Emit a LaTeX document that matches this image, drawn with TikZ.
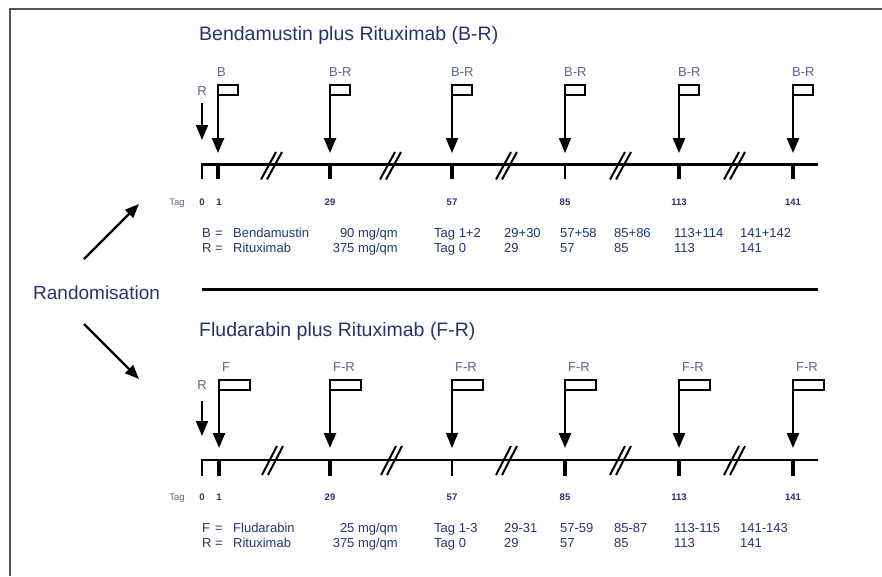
\documentclass[tikz,border=0pt]{standalone}
\usepackage{fontspec}
\setmainfont{Liberation Sans}
\usetikzlibrary{arrows.meta}
\definecolor{navy}{HTML}{26336E}
\definecolor{lblue}{HTML}{5A6390}
\definecolor{frameg}{HTML}{555555}
\tikzset{
  x=1pt,y=-1pt,
  titletext/.style={anchor=base west, inner sep=0, text=navy, font=\fontsize{19.5}{22}\selectfont},
  flaglbl/.style={anchor=base west, inner sep=0, text=lblue, font=\fontsize{13}{15}\selectfont},
  rlbl/.style={anchor=base, inner sep=0, text=lblue, font=\fontsize{13}{15}\selectfont},
  daylbl/.style={anchor=base, inner sep=0, text=navy, font=\fontsize{9.5}{11}\selectfont\bfseries},
  taglbl/.style={anchor=base, inner sep=0, text=lblue, font=\fontsize{9.5}{11}\selectfont},
  legend/.style={anchor=base west, inner sep=0, text=navy, font=\fontsize{13}{15}\selectfont},
  legendr/.style={anchor=base east, inner sep=0, text=navy, font=\fontsize{13}{15}\selectfont},
  flagbox/.style={draw, line width=2.2pt, fill=white, inner sep=0, outer sep=0, anchor=north west, minimum height=10pt},
  headtip/.style={-{Triangle[width=12pt,length=15pt]}},
  randarrow/.style={line width=2.4pt, -{Triangle[width=11pt,length=14pt]}},
  slashline/.style={line width=2pt},
}
\begin{document}
\begin{tikzpicture}
\useasboundingbox (0,0) rectangle (882,576);
% frame
\draw[line width=1.5pt, frameg] (10,576) -- (10,9) -- (882,9);

% ---------- upper arm ----------
\node[titletext] (t1) at (199,40) {Bendamustin plus Rituximab (B-R)};
\draw[line width=2pt] (202,179) -- (202,164);
\draw[line width=3pt] (201,164) -- (818,164);
\foreach \x/\w in {218/3.2,330/3.2,452/3.2,565/1.4,679/3.2,793/3.2}
  \draw[line width=\w pt] (\x,164) -- (\x,179);
\foreach \cx in {273,392,508,622,736}{
  \draw[slashline] (\cx-12,179.5) -- (\cx+3,152);
  \draw[slashline] (\cx-6,179.5) -- (\cx+9,152);
}
\foreach \x/\lbl/\w [count=\i] in {218/B/2.4,330/B-R/2.4,452/B-R/2.4,565/B-R/1.4,679/B-R/2.4,793/B-R/2.4}{
  \node[flagbox, minimum width=20pt] (uf\i) at (\x,85) {};
  \coordinate (ut\i) at (\x,153);
  \draw[line width=\w pt, headtip] (uf\i.north west) -- (ut\i);
  \node[flaglbl] (ul\i) at (\x-1,76.7) {\lbl};
}
\node[rlbl] (uR) at (202,95.7) {R};
\coordinate (uRs) at (202,103);
\coordinate (uRt) at (202,140);
\draw[line width=2pt, headtip] (uRs) -- (uRt);
\node[taglbl] (utag) at (177,205.5) {Tag};
\foreach \x/\d in {202/0,219/1,330/29,452/57,565/85,679/113,793/141}
  \node[daylbl] (ud\d) at (\x,205.5) {\d};
% legend upper
\node[legend] (ua1) at (202,237.7) {B};
\node[legend] (ua2) at (215,237.7) {=};
\node[legend] (ua3) at (233,237.7) {Bendamustin};
\node[legendr] (ua4) at (398,237.7) {90 mg/qm};
\node[legend] (ua5) at (434,237.7) {Tag 1+2};
\node[legend] (ua6) at (504,237.7) {29+30};
\node[legend] (ua7) at (560,237.7) {57+58};
\node[legend] (ua8) at (614,237.7) {85+86};
\node[legend] (ua9) at (674,237.7) {113+114};
\node[legend] (ua10) at (740,237.7) {141+142};
\node[legend] (ub1) at (202,252.7) {R};
\node[legend] (ub2) at (215,252.7) {=};
\node[legend] (ub3) at (233,252.7) {Rituximab};
\node[legendr] (ub4) at (398,252.7) {375 mg/qm};
\node[legend] (ub5) at (434,252.7) {Tag 0};
\node[legend] (ub6) at (504,252.7) {29};
\node[legend] (ub7) at (560,252.7) {57};
\node[legend] (ub8) at (614,252.7) {85};
\node[legend] (ub9) at (674,252.7) {113};
\node[legend] (ub10) at (740,252.7) {141};

% divider
\coordinate (dvl) at (202,289);
\coordinate (dvr) at (818,289);
\draw[line width=3pt] (dvl) -- (dvr);

% randomisation
\node[anchor=base west, inner sep=0, text=navy, font=\fontsize{19}{22}\selectfont] (rand) at (33,299) {Randomisation};
\coordinate (ruS) at (84,259);
\coordinate (ruE) at (139,204);
\coordinate (rlS) at (84,324);
\coordinate (rlE) at (139,379);
\draw[randarrow] (ruS) -- (ruE);
\draw[randarrow] (rlS) -- (rlE);

% ---------- lower arm ----------
\node[titletext] (t2) at (199,336) {Fludarabin plus Rituximab (F-R)};
\draw[line width=1.8pt] (202,476) -- (202,460);
\draw[line width=1.8pt] (201.1,460) -- (818,460);
\foreach \x/\w in {219/3.2,330/3.2,452/1.6,565/3.2,679/3.2,793/3.2}
  \draw[line width=\w pt] (\x,460) -- (\x,476);
\foreach \cx in {274,393,508,622,736}{
  \draw[slashline] (\cx-12,475) -- (\cx+3,446);
  \draw[slashline] (\cx-6,475) -- (\cx+9,446);
}
\foreach \x/\lbl/\w [count=\i] in {219/F/2.4,330/F-R/2.4,452/F-R/1.5,565/F-R/2.4,679/F-R/2.4,793/F-R/2.4}{
  \node[flagbox, minimum width=31pt] (lf\i) at (\x,380) {};
  \coordinate (lt\i) at (\x,448);
  \draw[line width=\w pt, headtip] (lf\i.north west) -- (lt\i);
  \node[flaglbl] (ll\i) at (\x+3,371.7) {\lbl};
}
\node[rlbl] (lR) at (202,389.7) {R};
\coordinate (lRs) at (202,401);
\coordinate (lRt) at (202,436);
\draw[line width=2pt, headtip] (lRs) -- (lRt);
\node[taglbl] (ltag) at (177,500.5) {Tag};
\foreach \x/\d in {202/0,219/1,330/29,452/57,565/85,679/113,793/141}
  \node[daylbl] (ld\d) at (\x,500.5) {\d};
% legend lower
\node[legend] (la1) at (202,532.7) {F};
\node[legend] (la2) at (215,532.7) {=};
\node[legend] (la3) at (233,532.7) {Fludarabin};
\node[legendr] (la4) at (398,532.7) {25 mg/qm};
\node[legend] (la5) at (434,532.7) {Tag 1-3};
\node[legend] (la6) at (504,532.7) {29-31};
\node[legend] (la7) at (560,532.7) {57-59};
\node[legend] (la8) at (614,532.7) {85-87};
\node[legend] (la9) at (674,532.7) {113-115};
\node[legend] (la10) at (740,532.7) {141-143};
\node[legend] (lb1) at (202,547.7) {R};
\node[legend] (lb2) at (215,547.7) {=};
\node[legend] (lb3) at (233,547.7) {Rituximab};
\node[legendr] (lb4) at (398,547.7) {375 mg/qm};
\node[legend] (lb5) at (434,547.7) {Tag 0};
\node[legend] (lb6) at (504,547.7) {29};
\node[legend] (lb7) at (560,547.7) {57};
\node[legend] (lb8) at (614,547.7) {85};
\node[legend] (lb9) at (674,547.7) {113};
\node[legend] (lb10) at (740,547.7) {141};
\end{tikzpicture}
\end{document}
